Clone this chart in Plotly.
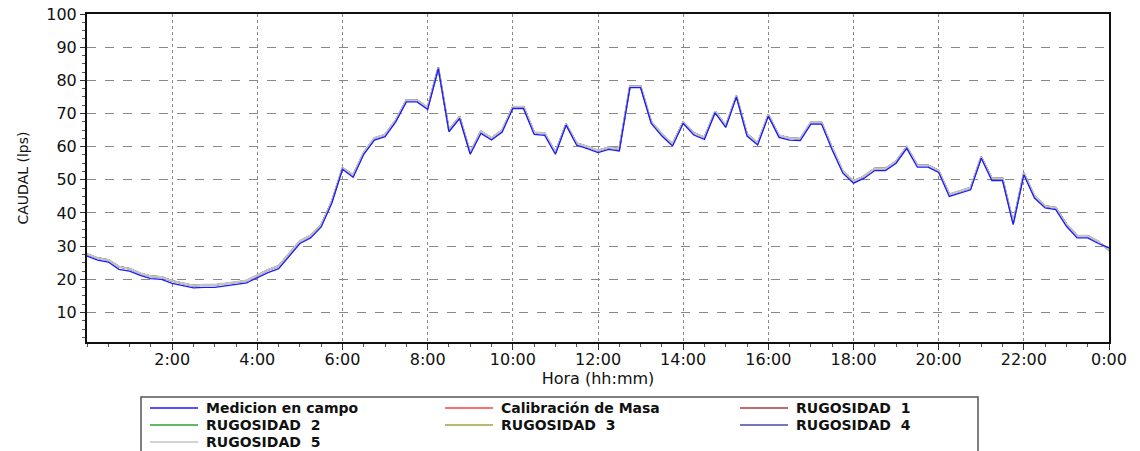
import numpy as np
import plotly.graph_objects as go

# caudal cada 15 minutos, de 0:00 a 24:00
medicion = [
    27.0, 25.8, 25.2, 23.0, 22.5, 21.2, 20.2, 20.0,
    18.8, 18.2, 17.4, 17.6, 17.6, 18.0, 18.4, 18.9,
    20.5, 22.0, 23.2, 27.0, 30.8, 32.5, 35.8, 43.0,
    53.2, 50.8, 57.7, 62.0, 63.0, 67.5, 73.5, 73.5,
    71.2, 83.5, 64.5, 68.5, 57.7, 64.0, 62.0, 64.4,
    71.5, 71.5, 63.7, 63.4, 57.7, 66.5, 60.4, 59.4,
    58.2, 59.2, 58.7, 77.8, 77.8, 67.0, 63.2, 60.2,
    67.0, 63.5, 62.2, 70.2, 65.8, 75.0, 63.2, 60.5,
    69.2, 62.8, 62.0, 61.8, 66.8, 66.8, 59.0, 52.0,
    49.0, 50.5, 52.8, 52.8, 55.0, 59.5, 53.8, 53.8,
    52.2, 45.0, 46.0, 47.0, 56.5, 49.8, 49.8, 36.5,
    51.5, 44.5, 41.5, 41.0, 36.0, 32.5, 32.5, 30.8,
    29.5,
]

simulado = [
    27.6, 26.4, 25.8, 23.8, 23.2, 21.8, 20.9, 20.7,
    19.5, 18.9, 18.1, 18.3, 18.3, 18.7, 19.1, 19.6,
    21.2, 22.8, 24.0, 27.8, 31.5, 33.2, 36.4, 43.5,
    53.6, 51.4, 58.2, 62.6, 63.6, 68.0, 74.0, 74.0,
    71.8, 83.8, 65.0, 69.0, 58.2, 64.6, 62.6, 65.0,
    72.0, 72.0, 64.3, 64.0, 58.2, 66.8, 61.0, 60.0,
    58.8, 59.8, 59.3, 78.2, 78.2, 67.5, 63.8, 60.8,
    67.4, 64.1, 62.8, 70.6, 66.3, 75.3, 63.8, 61.1,
    69.6, 63.4, 62.6, 62.4, 67.3, 67.3, 59.6, 52.6,
    49.6, 51.1, 53.4, 53.4, 55.6, 59.9, 54.4, 54.4,
    52.8, 45.6, 46.6, 47.6, 56.9, 50.4, 50.4, 37.0,
    52.0, 45.1, 42.1, 41.6, 36.6, 33.1, 33.1, 31.4,
    28.8,
]

horas = np.arange(len(medicion)) * 0.25

x_tickvals = [2, 4, 6, 8, 10, 12, 14, 16, 18, 20, 22, 24]
x_ticktext = ['2:00', '4:00', '6:00', '8:00', '10:00', '12:00', '14:00',
              '16:00', '18:00', '20:00', '22:00', '0:00']
y_tickvals = [10, 20, 30, 40, 50, 60, 70, 80, 90, 100]

# orden de la leyenda (3 columnas, por filas)
leyenda = ['Medicion en campo', 'Calibración de Masa', 'RUGOSIDAD  1',
           'RUGOSIDAD  2', 'RUGOSIDAD  3', 'RUGOSIDAD  4', 'RUGOSIDAD  5']
colores = ['#1a1aff', '#ff4040', '#b03a3a', '#30a030', '#a0a040',
           '#4848a8', '#c4c4c4']

FONT = 'DejaVu Sans, Arial, sans-serif'

fig = go.Figure()

# modelos primero, la medicion queda encima
for nombre, color in zip(leyenda[1:6], colores[1:6]):
    fig.add_trace(
        go.Scatter(x=horas, y=simulado, name=nombre, mode='lines',
        showlegend=False, line=dict(color=color, width=1.5))
    )
fig.add_trace(
    go.Scatter(x=horas, y=simulado, name=leyenda[6], mode='lines',
    showlegend=False, line=dict(color=colores[6], width=2.2))
)
fig.add_trace(
    go.Scatter(x=horas, y=medicion, name=leyenda[0], mode='lines',
    showlegend=False, line=dict(color=colores[0], width=1.3))
)


# leyenda dibujada a mano, en pixeles de la pantalla -> coordenadas paper
def px(x):
    return (x - 87) / 1022

def py(y):
    return (342 - y) / 328

shapes = [dict(type='rect', xref='paper', yref='paper',
               x0=px(141), x1=px(978), y0=py(397), y1=py(470),
               line=dict(color='#555', width=1.5), fillcolor='white')]
annotations = []
for i, (nombre, color) in enumerate(zip(leyenda, colores)):
    col, fila = i % 3, i // 3
    x_linea = 150 + col * 295
    y_fila = 408 + fila * 17
    shapes.append(dict(type='line', xref='paper', yref='paper',
                       x0=px(x_linea), x1=px(x_linea + 48),
                       y0=py(y_fila), y1=py(y_fila),
                       line=dict(color=color, width=1.5)))
    annotations.append(dict(text=nombre, xref='paper', yref='paper',
                            x=px(x_linea + 54), y=py(y_fila),
                            xanchor='left', yanchor='middle', showarrow=False,
                            font=dict(family=FONT, size=14, color='#111',
                                      weight='bold')))

fig.update_layout(
    width=1140,
    height=451,
    # la pagina tiene 8px de margen en el body
    margin=dict(l=79, r=39, t=6, b=117, autoexpand=False),
    plot_bgcolor='white',
    paper_bgcolor='white',
    font=dict(family=FONT, size=15, color='#111'),
    showlegend=False,
    shapes=shapes,
    annotations=annotations,
    xaxis=dict(
        range=[0, 24],
        tickvals=x_tickvals, ticktext=x_ticktext,
        ticks='outside', ticklen=6, tickcolor='#333',
        ticklabelstandoff=-4, ticklabeloverflow='allow',
        minor=dict(dtick=0.5, tick0=0, ticks='outside', ticklen=3,
                   tickcolor='#555', showgrid=False),
        showgrid=True, gridcolor='#888', griddash='dot', gridwidth=1,
        showline=True, linecolor='#111', linewidth=2, mirror=True,
        zeroline=False, automargin=False,
        tickfont=dict(size=16),
        title=dict(text='Hora (hh:mm)', standoff=0,
                   font=dict(family=FONT, size=16)),
    ),
    yaxis=dict(
        range=[1.1, 100],
        tickvals=y_tickvals,
        ticks='outside', ticklen=5, tickcolor='#333',
        ticklabeloverflow='allow',
        minor=dict(dtick=2.5, tick0=0, ticks='outside', ticklen=3,
                   tickcolor='#555', showgrid=False),
        showgrid=True, gridcolor='#888', griddash='dash', gridwidth=1,
        showline=True, linecolor='#111', linewidth=2, mirror=True,
        zeroline=False, automargin=False,
        tickfont=dict(size=16),
        title=dict(text='CAUDAL (lps)', standoff=14,
                   font=dict(family=FONT, size=14)),
    ),
)

fig.write_html("out.html")
